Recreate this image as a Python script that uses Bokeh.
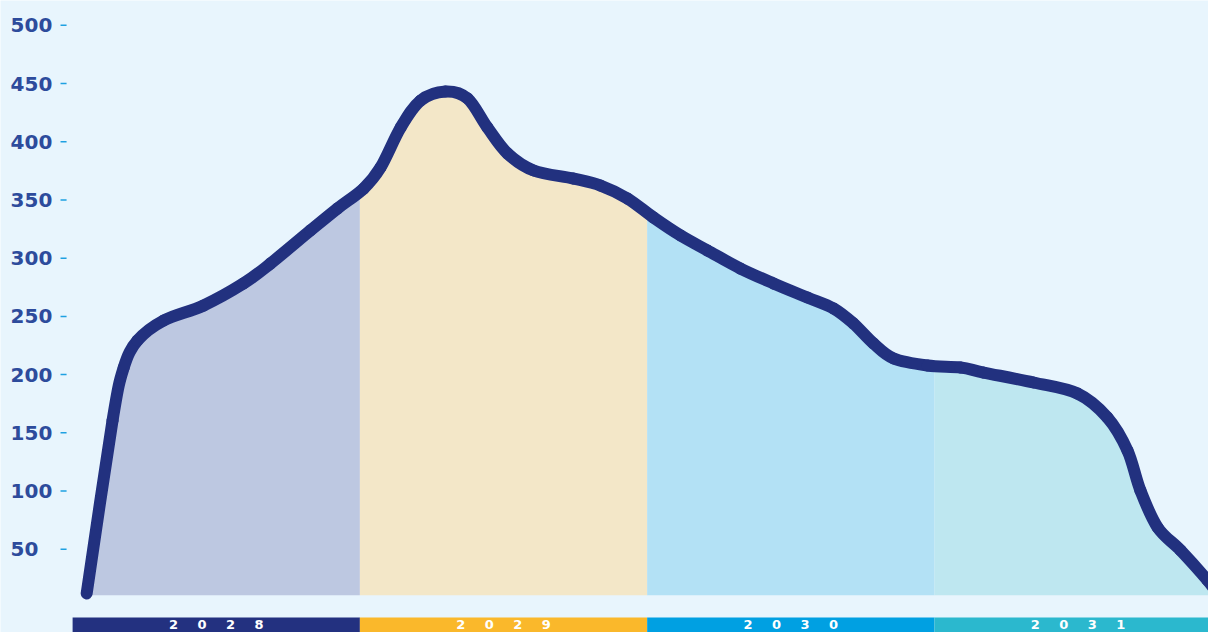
from bokeh.plotting import figure
from bokeh.models import Range1d
from bokeh.embed import file_html
from bokeh.resources import INLINE
from bokeh.core.properties import value
import numpy as np

# ---- data ----
years = [2028, 2029, 2030, 2031]
GAP = "\u2003\u2002"
year_labels = [GAP.join(str(y)) for y in years]
band_colors = ["#233180", "#FAB82B", "#00A0E2", "#2BB8CE"]
fill_colors = ["#BDC8E1", "#F3E7C8", "#B3E1F5", "#BEE7F0"]

t = [2028.049, 2028.139, 2028.178, 2028.226, 2028.317, 2028.456, 2028.595, 2028.689,
     2028.828, 2028.922, 2029.013, 2029.072, 2029.142, 2029.211, 2029.298, 2029.375,
     2029.444, 2029.514, 2029.605, 2029.744, 2029.838, 2029.932, 2030.022, 2030.116,
     2030.210, 2030.325, 2030.440, 2030.558, 2030.649, 2030.718, 2030.788, 2030.858,
     2030.976, 2031.091, 2031.171, 2031.345, 2031.498, 2031.602, 2031.672, 2031.717,
     2031.777, 2031.857, 2031.951, 2031.996]
vals = [12.0, 160.6, 206.1, 229.3, 246.5, 259.4, 278.3, 295.4,
        323.8, 342.7, 359.8, 377.9, 412.2, 435.3, 443.1, 437.1,
        412.2, 389.9, 375.3, 368.4, 362.4, 351.2, 334.9, 319.5,
        306.6, 291.1, 278.3, 266.2, 256.8, 243.9, 226.7, 213.8,
        207.8, 206.1, 201.8, 193.2, 183.8, 163.2, 134.8, 100.5,
        68.7, 49.0, 23.2, 8.6]
baseline = 10.5
y_ticks = [50, 100, 150, 200, 250, 300, 350, 400, 450, 500]

BG = "#E8F5FD"
LINE = "#22317F"

p = figure(width=1208, height=632, output_backend="svg", toolbar_location=None,
           x_range=Range1d(2027.749, 2031.954), y_range=Range1d(-21.5, 521.3),
           min_border=0, background_fill_color=BG, border_fill_color=BG)
p.outline_line_color = None
p.grid.visible = False
p.xaxis.visible = False
p.yaxis.visible = False

ta = np.array(t)
va = np.array(vals)

# per-year filled areas
for k, yr in enumerate(years):
    lo = max(yr, ta[0])
    hi = min(yr + 1, ta[-1])
    mask = (ta > lo) & (ta < hi)
    xs = np.concatenate([[lo], ta[mask], [hi]])
    ys = np.concatenate([[np.interp(lo, ta, va)], va[mask], [np.interp(hi, ta, va)]])
    p.varea(x=xs, y1=np.full(len(xs), baseline), y2=ys, fill_color=fill_colors[k])

# bottom year bands
p.quad(left=years, right=[y + 1 for y in years], bottom=[-40] * 4, top=[-8.6] * 4,
       fill_color=band_colors, line_color=None)
p.text(x=[y + 0.5 for y in years], y=[-15.0] * 4, text=year_labels,
       text_color="white", text_font=value("DejaVu Sans"), text_font_style="bold",
       text_font_size="13px", text_align="center", text_baseline="middle")

# main line, drawn as a smooth curve through the points (Catmull-Rom -> cubic Bezier)
px = np.concatenate([[ta[0]], ta, [ta[-1]]])
py = np.concatenate([[va[0]], va, [va[-1]]])
n = len(ta) - 1
x0 = px[1:n + 1]; y0 = py[1:n + 1]
x1 = px[2:n + 2]; y1 = py[2:n + 2]
cx0 = x0 + (px[2:n + 2] - px[0:n]) / 6.0
cy0 = y0 + (py[2:n + 2] - py[0:n]) / 6.0
cx1 = x1 - (px[3:n + 3] - px[1:n + 1]) / 6.0
cy1 = y1 - (py[3:n + 3] - py[1:n + 1]) / 6.0
p.bezier(x0=x0, y0=y0, x1=x1, y1=y1, cx0=cx0, cy0=cy0, cx1=cx1, cy1=cy1,
         line_color=LINE, line_width=12, line_cap="round")

# y tick marks and labels
p.segment(x0=[2027.958] * len(y_ticks), x1=[2027.979] * len(y_ticks),
          y0=y_ticks, y1=y_ticks, line_color="#1EA0E1", line_width=1.5)
p.text(x=[2027.784] * len(y_ticks), y=y_ticks, text=[str(v) for v in y_ticks],
       text_color="#2D4B9C", text_font=value("DejaVu Sans"), text_font_style="bold",
       text_font_size="20px", text_align="left", text_baseline="middle")

open("out.html", "w").write(file_html(p, INLINE))
